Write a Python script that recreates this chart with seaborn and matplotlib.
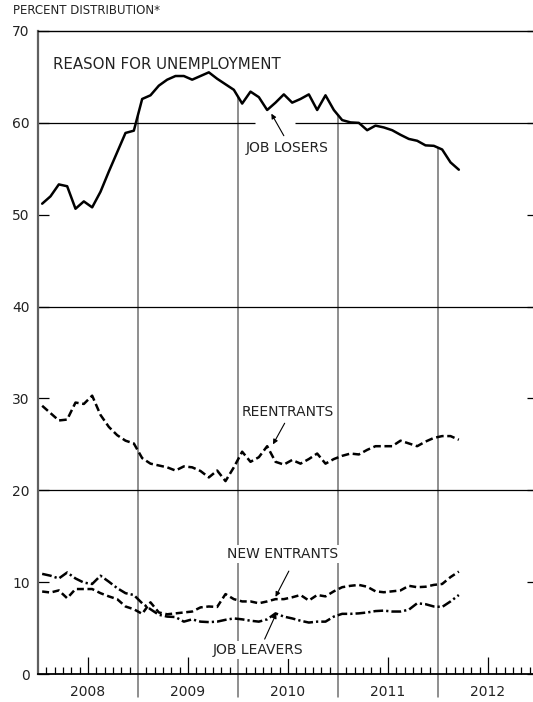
import numpy as np
import pandas as pd
import matplotlib
matplotlib.use('Agg')
import matplotlib.pyplot as plt
from matplotlib.ticker import FixedLocator
import seaborn as sns

# Monthly values, Jan 2008 - Mar 2012 (percent of unemployed)
dates = pd.date_range('2008-01-01', '2012-03-01', freq='MS')

job_losers = [51.2, 52.0, 53.3, 53.1, 50.65, 51.45, 50.8, 52.5, 54.7, 56.8,
              58.9, 59.15, 62.6, 63.0, 64.05, 64.7, 65.1, 65.1, 64.7, 65.1,
              65.5, 64.8, 64.2, 63.6, 62.1, 63.4, 62.8, 61.4, 62.2, 63.1,
              62.2, 62.6, 63.1, 61.4, 63.0, 61.4, 60.3, 60.05, 60.0, 59.2,
              59.7, 59.5, 59.2, 58.7, 58.25, 58.05, 57.55, 57.5, 57.1, 55.7,
              54.9]
reentrants = [29.2, 28.4, 27.6, 27.7, 29.55, 29.4, 30.3, 28.2, 26.9, 26.0,
              25.4, 25.1, 23.5, 22.9, 22.7, 22.5, 22.15, 22.6, 22.5, 22.1,
              21.4, 22.15, 21.0, 22.5, 24.2, 23.1, 23.6, 24.8, 23.1, 22.8,
              23.3, 22.9, 23.4, 24.0, 22.9, 23.4, 23.75, 24.0, 23.9, 24.4,
              24.8, 24.8, 24.8, 25.4, 25.1, 24.8, 25.3, 25.7, 25.9, 25.9,
              25.5]
new_entrants = [8.98, 8.87, 9.1, 8.25, 9.25, 9.25, 9.25, 8.8, 8.45, 8.15,
                7.35, 7.05, 6.55, 7.8, 6.7, 6.5, 6.6, 6.7, 6.8, 7.25,
                7.35, 7.3, 8.7, 8.15, 7.9, 7.9, 7.7, 7.9, 8.15, 8.15,
                8.35, 8.6, 8.0, 8.6, 8.45, 9.0, 9.45, 9.6, 9.7, 9.5,
                9.0, 8.9, 9.0, 9.1, 9.6, 9.45, 9.5, 9.7, 9.8, 10.55,
                11.15]
job_leavers = [10.9, 10.7, 10.4, 11.05, 10.4, 9.95, 9.8, 10.7, 10.05, 9.35,
               8.8, 8.6, 7.7, 7.05, 6.45, 6.25, 6.2, 5.7, 5.95, 5.7,
               5.65, 5.7, 5.9, 6.05, 5.95, 5.8, 5.7, 5.95, 6.6, 6.25,
               6.05, 5.8, 5.6, 5.7, 5.7, 6.25, 6.55, 6.55, 6.6, 6.7,
               6.85, 6.9, 6.8, 6.8, 7.0, 7.7, 7.6, 7.35, 7.3, 7.9,
               8.6]

year_labels = ['2008', '2009', '2010', '2011', '2012']

# x = months since Jan 2008, each value sits in the middle of its month
months = (dates.year - 2008) * 12 + dates.month - 1 + 0.5
df = pd.DataFrame({'month': months,
                   'Job losers': job_losers,
                   'Reentrants': reentrants,
                   'New entrants': new_entrants,
                   'Job leavers': job_leavers})

sns.set_style('white')
plt.rcParams['font.family'] = ['DejaVu Sans']
plt.rcParams['lines.scale_dashes'] = False

fig = plt.figure(figsize=(5.33, 7.02), dpi=100)
ax = fig.add_axes([38 / 533, 28 / 702, 500 / 533, 643 / 702])

lw = 1.8
sns.lineplot(data=df, x='month', y='Job losers', ax=ax, color='black', lw=lw, zorder=4)
sns.lineplot(data=df, x='month', y='Reentrants', ax=ax, color='black', lw=lw, zorder=4)
ax.lines[-1].set_dashes([5.5, 2.6])
sns.lineplot(data=df, x='month', y='New entrants', ax=ax, color='black', lw=lw, zorder=4)
ax.lines[-1].set_dashes([5.0, 2.6])
sns.lineplot(data=df, x='month', y='Job leavers', ax=ax, color='black', lw=lw, zorder=4)
ax.lines[-1].set_dashes([7.0, 2.2, 1.6, 2.2])

ax.set_xlim(0, 60)
ax.set_ylim(0, 70)
ax.set_xlabel('')
ax.set_ylabel('')

# horizontal rules (the one at 60 is broken around the job losers arrow)
ax.axhline(20, color='black', lw=0.9, zorder=2)
ax.axhline(40, color='black', lw=0.9, zorder=2)
ax.hlines(60, 0, 26, color='black', lw=0.9, zorder=2)
ax.hlines(60, 30.8, 60, color='black', lw=0.9, zorder=2)

# year separators run from below the axis up to the job losers line
for k in range(1, 5):
    top = np.interp(12 * k, months, job_losers)
    ax.plot([12 * k, 12 * k], [-2.5, top], color='#707070', lw=1.1,
            clip_on=False, zorder=1)

# spines
for side in ['top', 'bottom']:
    ax.spines[side].set_color('black')
ax.spines['top'].set_linewidth(1.0)
ax.spines['bottom'].set_linewidth(1.3)
ax.spines['left'].set_color('#606060')
ax.spines['left'].set_linewidth(1.6)
ax.spines['right'].set_visible(False)

# ticks
ax.set_yticks(range(0, 71, 10))
ax.tick_params(axis='y', direction='in', length=7.9, width=0.9, color='black',
               left=True, right=True, labelright=False, pad=6,
               labelsize=10, labelcolor='#222222')
ax.set_xticks([6 + 12 * k for k in range(5)], labels=year_labels)
ax.xaxis.set_minor_locator(FixedLocator([m for m in range(1, 60) if m % 6 != 0]))
ax.tick_params(axis='x', which='major', direction='in', length=12.2, width=0.9,
               color='black', bottom=True, pad=8, labelsize=10, labelcolor='#222222')
ax.tick_params(axis='x', which='minor', direction='in', length=5, width=0.9,
               color='black', bottom=True)

# labels
txt = dict(fontsize=10, color='#222222', zorder=6)
box = dict(facecolor='white', edgecolor='none', pad=1.5)
ax.text(1.8, 66.3, 'REASON FOR UNEMPLOYMENT', ha='left', va='center',
        fontsize=10.8, color='#222222', zorder=6)

arrow = dict(arrowstyle='-|>', lw=0.8, color='black', mutation_scale=7,
             shrinkA=0, shrinkB=0)
ax.annotate('', xy=(28.0, 61.0), xytext=(29.5, 58.6), arrowprops=arrow, zorder=6)
ax.text(29.9, 57.3, 'JOB LOSERS', ha='center', va='center', **txt)

ax.annotate('', xy=(28.2, 25.0), xytext=(29.6, 27.3), arrowprops=arrow, zorder=6)
ax.text(30.0, 28.5, 'REENTRANTS', ha='center', va='center', **txt)

ax.annotate('', xy=(28.5, 8.4), xytext=(30.1, 11.2), arrowprops=arrow, zorder=6)
ax.text(29.4, 13.1, 'NEW ENTRANTS', ha='center', va='center', bbox=box, **txt)

ax.annotate('', xy=(28.6, 6.6), xytext=(27.2, 3.8), arrowprops=arrow, zorder=6)
ax.text(26.4, 2.6, 'JOB LEAVERS', ha='center', va='center', bbox=box, **txt)

fig.text(13 / 533, 1 - 11 / 702, 'PERCENT DISTRIBUTION*', ha='left', va='center',
         fontsize=8.5, color='#222222')

fig.savefig('out.png', dpi=100)
